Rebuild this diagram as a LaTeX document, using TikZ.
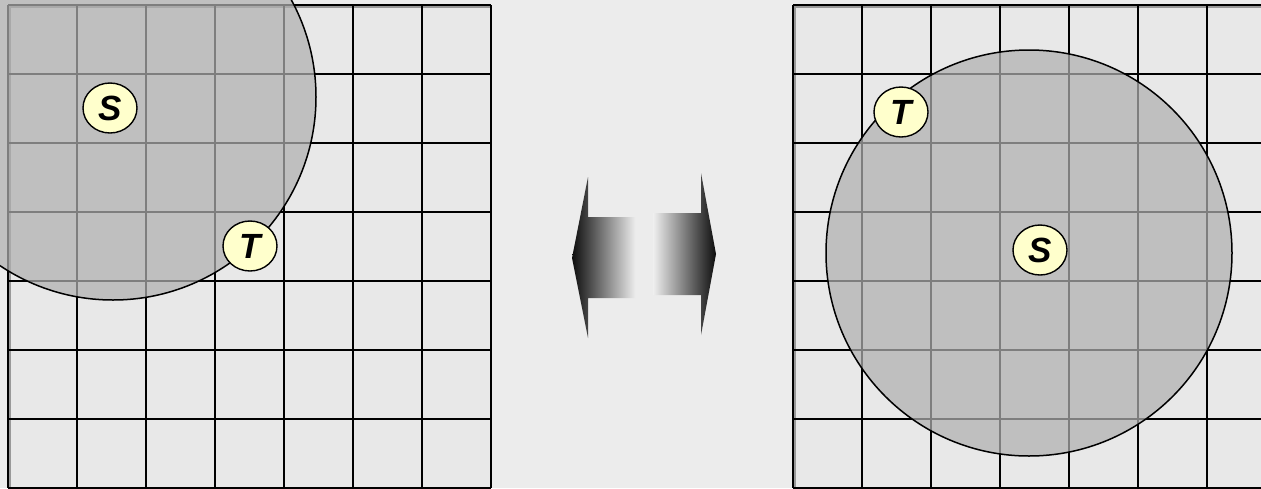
\documentclass[tikz,border=0pt]{standalone}
\usepackage{fontspec}
\setsansfont{Liberation Sans}
\usetikzlibrary{shapes.geometric}

\definecolor{bgcol}{HTML}{ECECEC}
\definecolor{cellcol}{HTML}{E8E8E8}
\definecolor{diskcol}{RGB}{176,176,176}
\definecolor{labelcol}{HTML}{FFFFCC}

\tikzset{
  gridline/.style={black, line width=1.6pt},
  gridshadow/.style={gray!80, line width=2pt},
  disk/.style={fill=diskcol, fill opacity=0.72, draw=black, line width=1.5pt},
  vertex/.style={ellipse, draw=black, line width=1.4pt, fill=labelcol,
    minimum width=54pt, minimum height=50pt, inner sep=0pt,
    font=\sffamily\bfseries\itshape\fontsize{35}{35}\selectfont},
}

\begin{document}
\begin{tikzpicture}[x=1pt,y=-1pt]
  \useasboundingbox (0,0) rectangle (1261,488); % 画像全体の大きさ
  \fill[bgcol] (0,0) rectangle (1261,488); % 背景
  \clip (0,0) rectangle (1261,488); % はみ出した部分を切る
  \fill[cellcol] (8,5) rectangle (491,488); % 左の格子の地
  \fill[cellcol] (793,5) rectangle (1276,488); % 右の格子の地
  \draw[gridshadow] (10,488) -- (10,6.5) -- (491,6.5); % 左の格子の影
  \draw[gridshadow] (795,488) -- (795,6.5) -- (1261,6.5); % 右の格子の影
  \foreach \k in {0,...,7} {
    \draw[gridline] (8+69*\k,5) -- (8+69*\k,488); % 左の縦線
    \draw[gridline] (8,5+69*\k) -- (491,5+69*\k); % 左の横線
    \draw[gridline] (793+69*\k,5) -- (793+69*\k,488); % 右の縦線
    \draw[gridline] (793,5+69*\k) -- (1276,5+69*\k); % 右の横線
  }
  \draw[disk] (113,97) circle[radius=203]; % 左の円（Sが中心）
  \draw[disk] (1029,253) circle[radius=203]; % 右の円（Sが中心）
  \node[vertex] (srcL) at (110,108) {S}; % 左のS
  \node[vertex] (tgtL) at (250,246) {T}; % 左のT（円周上）
  \node[vertex] (srcR) at (1040,250) {S}; % 右のS
  \node[vertex] (tgtR) at (901,112) {T}; % 右のT（円周上）
  \shade[left color=black!95, right color=cellcol!70!white]
    (572,258) -- (588,177) -- (588,217) -- (636,217) -- (636,298)
    -- (588,298) -- (588,338) -- cycle; % 左向きの矢印
  \shade[left color=cellcol!70!white, right color=black!95]
    (716,254) -- (701,173) -- (701,213) -- (653,213) -- (653,295)
    -- (701,295) -- (701,335) -- cycle; % 右向きの矢印
\end{tikzpicture}
\end{document}
